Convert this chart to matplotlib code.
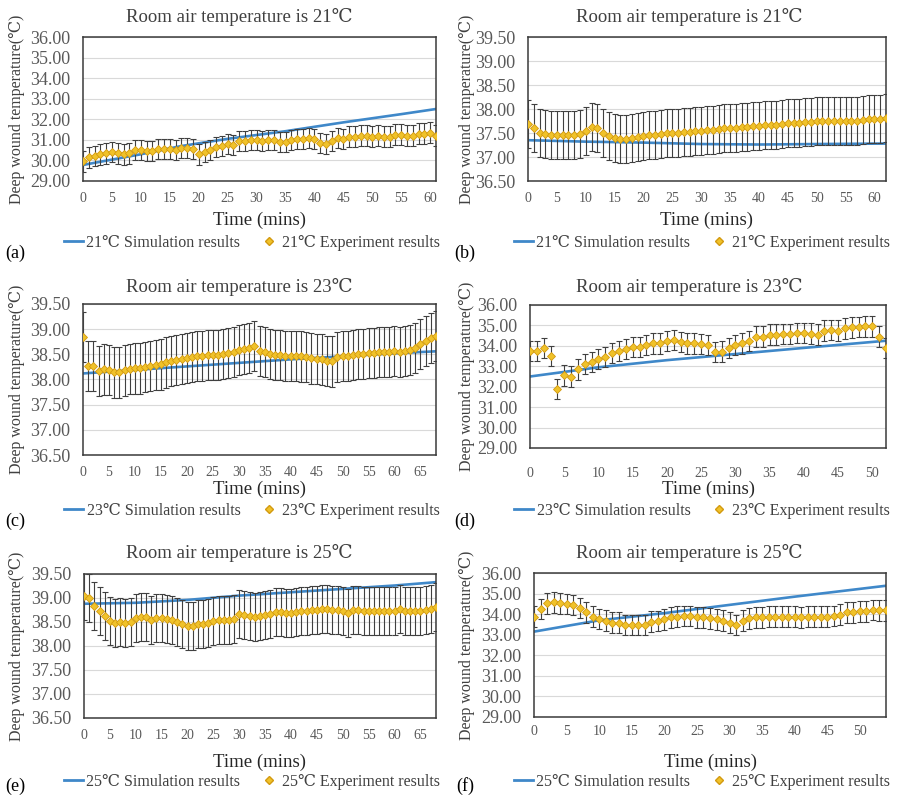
import numpy as np
import matplotlib
matplotlib.use("Agg")
import matplotlib.pyplot as plt
from matplotlib.lines import Line2D

plt.rcParams['font.family'] = ['Liberation Serif', 'DejaVu Serif']

# ---- data ----
# (a) 21 C, first sensor
a_exp = [29.95, 30.15, 30.22, 30.3, 30.35, 30.4, 30.35, 30.3, 30.35, 30.5,
         30.5, 30.45, 30.45, 30.55, 30.55, 30.55, 30.5, 30.6, 30.6, 30.55,
         30.3, 30.4, 30.5, 30.65, 30.7, 30.8, 30.75, 30.95, 30.95, 31.0,
         31.0, 30.95, 31.0, 31.0, 30.9, 30.9, 31.0, 31.05, 31.05, 31.1,
         31.05, 30.85, 30.8, 30.95, 31.1, 31.05, 31.15, 31.15, 31.2, 31.2,
         31.15, 31.2, 31.15, 31.15, 31.25, 31.25, 31.2, 31.2, 31.3, 31.3,
         31.35, 31.2]
a_sim_t = [0, 10, 17, 25, 35, 45, 55, 61]
a_sim = [29.78, 30.3, 30.7, 31.05, 31.42, 31.85, 32.25, 32.5]

# (b) 21 C, second sensor
b_exp = [37.68, 37.6, 37.5, 37.47, 37.45, 37.45, 37.45, 37.45, 37.45, 37.48,
         37.55, 37.62, 37.6, 37.5, 37.43, 37.4, 37.38, 37.38, 37.4, 37.41,
         37.43, 37.45, 37.46, 37.48, 37.5, 37.5, 37.5, 37.52, 37.53, 37.54,
         37.55, 37.56, 37.57, 37.58, 37.6, 37.6, 37.61, 37.62, 37.63, 37.64,
         37.65, 37.66, 37.67, 37.67, 37.68, 37.7, 37.7, 37.71, 37.72, 37.73,
         37.74, 37.75, 37.76, 37.75, 37.74, 37.74, 37.75, 37.76, 37.78, 37.79,
         37.8, 37.8, 37.82]
b_sim_t = [0, 10, 20, 30, 40, 50, 62]
b_sim = [37.35, 37.32, 37.3, 37.27, 37.26, 37.27, 37.28]

# (c) 23 C, first sensor
c_exp = [38.84, 38.27, 38.27, 38.17, 38.2, 38.19, 38.14, 38.14, 38.18, 38.21,
         38.22, 38.22, 38.25, 38.27, 38.29, 38.3, 38.34, 38.37, 38.39, 38.41,
         38.43, 38.45, 38.47, 38.47, 38.49, 38.49, 38.49, 38.5, 38.52, 38.55,
         38.59, 38.61, 38.62, 38.67, 38.57, 38.54, 38.51, 38.49, 38.49, 38.47,
         38.47, 38.47, 38.46, 38.45, 38.42, 38.41, 38.4, 38.37, 38.36, 38.45,
         38.47, 38.47, 38.49, 38.5, 38.51, 38.52, 38.53, 38.54, 38.54, 38.54,
         38.56, 38.55, 38.56, 38.59, 38.62, 38.7, 38.76, 38.82, 38.87]
c_sim_t = [0, 10, 20, 30, 40, 50, 60, 68]
c_sim = [38.12, 38.19, 38.26, 38.33, 38.4, 38.46, 38.52, 38.56]

# (d) 23 C, second sensor
d_exp = [33.74, 33.74, 33.9, 33.5, 31.9, 32.55, 32.5, 32.85, 33.1, 33.2,
         33.35, 33.45, 33.65, 33.75, 33.85, 33.95, 33.95, 34.05, 34.12, 34.12,
         34.25, 34.28, 34.2, 34.12, 34.12, 34.08, 34.05, 33.7, 33.72, 33.9,
         34.05, 34.12, 34.25, 34.45, 34.45, 34.55, 34.55, 34.58, 34.58, 34.62,
         34.62, 34.6, 34.55, 34.75, 34.78, 34.75, 34.85, 34.9, 34.92, 34.95,
         34.95, 34.45, 33.9]
d_sim_t = [0, 10, 20, 30, 40, 52]
d_sim = [32.5, 32.95, 33.3, 33.6, 33.9, 34.25]

# (e) 25 C, first sensor
e_exp = [39.05, 38.99, 38.83, 38.73, 38.63, 38.53, 38.47, 38.49, 38.47, 38.49,
         38.58, 38.61, 38.6, 38.54, 38.58, 38.58, 38.57, 38.54, 38.51, 38.45,
         38.42, 38.41, 38.45, 38.46, 38.47, 38.52, 38.54, 38.54, 38.54, 38.56,
         38.67, 38.65, 38.63, 38.61, 38.63, 38.65, 38.67, 38.7, 38.7, 38.68,
         38.68, 38.7, 38.72, 38.72, 38.75, 38.75, 38.77, 38.77, 38.75, 38.74,
         38.72, 38.68, 38.75, 38.74, 38.72, 38.72, 38.72, 38.72, 38.72, 38.72,
         38.72, 38.78, 38.72, 38.72, 38.72, 38.72, 38.74, 38.77, 38.81]
e_sim_t = [0, 10, 20, 30, 40, 50, 60, 68]
e_sim = [38.88, 38.9, 38.96, 39.05, 39.12, 39.19, 39.26, 39.33]

# (f) 25 C, second sensor
f_exp = [33.88, 34.24, 34.53, 34.57, 34.53, 34.5, 34.45, 34.29, 34.08, 33.88,
         33.77, 33.69, 33.59, 33.59, 33.48, 33.48, 33.48, 33.48, 33.64, 33.67,
         33.75, 33.85, 33.88, 33.92, 33.92, 33.85, 33.85, 33.8, 33.75, 33.69,
         33.59, 33.48, 33.69, 33.8, 33.85, 33.85, 33.88, 33.88, 33.88, 33.88,
         33.88, 33.85, 33.88, 33.88, 33.88, 33.88, 33.92, 33.97, 34.08, 34.08,
         34.13, 34.13, 34.21, 34.18, 34.18]
f_sim_t = [0, 10, 20, 30, 40, 54]
f_sim = [33.15, 33.7, 34.05, 34.45, 34.85, 35.38]

exp_err = 0.5

room_temps = ['21', '21', '23', '23', '25', '25']
panel_tags = ['(a)', '(b)', '(c)', '(d)', '(e)', '(f)']
low_range = [29, 30, 31, 32, 33, 34, 35, 36]
high_range = [36.5, 37.0, 37.5, 38.0, 38.5, 39.0, 39.5]

# ---- layout (pixels) ----
W, H = 898, 797
SIM_C = '#3f88c9'
MK_FACE = '#f0c22a'
MK_EDGE = '#d39a10'
ERR_C = '#404040'
TXT = '#404040'


def box(l, t, r, b):
    return [l / W, 1 - b / H, (r - l) / W, (b - t) / H]


# data, sim times, sim values, y ticks, axes box, x offset, x tick-label pad (pt)
panels = [
    (a_exp, a_sim_t, a_sim, low_range, box(83, 37, 436, 181), 0, 8),
    (b_exp, b_sim_t, b_sim, high_range, box(528, 37, 886, 181), 450, 8),
    (c_exp, c_sim_t, c_sim, high_range, box(83, 304, 436, 455), 0, 8),
    (d_exp, d_sim_t, d_sim, low_range, box(530, 305, 886, 448), 450, 14),
    (e_exp, e_sim_t, e_sim, high_range, box(84, 574, 436, 718), 0, 8),
    (f_exp, f_sim_t, f_sim, low_range, box(534, 573, 886, 717), 450, 6),
]
title_y = [17, 287, 553]
timelab_y = [220, 489, 762]
legend_y = [243, 511, 782]
tag_y = [253, 521, 786]

fig = plt.figure(figsize=(W / 100, H / 100), dpi=100)

for i, (exp, st, sv, yt, pos, dx, xpad) in enumerate(panels):
    row = i // 2
    ax = fig.add_axes(pos)
    t = np.arange(len(exp))
    ax.plot(st, sv, color=SIM_C, lw=1.9, zorder=2)
    ax.errorbar(t, exp, yerr=exp_err, fmt='none', ecolor=ERR_C,
                elinewidth=0.8, capsize=2.3, capthick=0.8, zorder=3)
    ax.plot(t, exp, ls='none', marker='D', ms=4.4, mfc=MK_FACE,
            mec=MK_EDGE, mew=0.6, zorder=4)
    ax.set_xlim(0, len(exp) - 1)
    ax.set_ylim(yt[0], yt[-1])
    ax.set_yticks(yt)
    ax.set_yticklabels(['%.2f' % v for v in yt])
    ax.set_xticks(np.arange(0, len(exp), 5))
    ax.yaxis.grid(True, color='#d9d9d9', lw=0.8)
    ax.set_axisbelow(True)
    ax.tick_params(axis='y', length=0, pad=9, labelsize=13, labelcolor='#595959')
    ax.tick_params(axis='x', length=0, pad=xpad, labelsize=10,
                   labelcolor='#595959')
    for s in ax.spines.values():
        s.set_color('#3a3a3a')
        s.set_linewidth(1.1)

    fig.text((dx + 239) / W, 1 - title_y[row] / H,
             'Room air temperature is %s\u2103' % room_temps[i],
             ha='center', va='center', fontsize=13.5, color=TXT)
    fig.text((dx + 17) / W, pos[1] + pos[3] / 2,
             'Deep wound temperature(\u2103)', rotation=90,
             ha='center', va='center', fontsize=11.5, color=TXT)
    fig.text(pos[0] + pos[2] / 2, 1 - timelab_y[row] / H, 'Time (mins)',
             ha='center', va='center', fontsize=13.5, color='#262626')
    handles = [Line2D([], [], color=SIM_C, lw=2),
               Line2D([], [], ls='none', marker='D', ms=4, mfc=MK_FACE,
                      mec=MK_EDGE)]
    labels = ['%s\u2103 Simulation results' % room_temps[i],
              '%s\u2103 Experiment results' % room_temps[i]]
    fig.legend(handles, labels, loc='center',
               bbox_to_anchor=((dx + 252) / W, 1 - legend_y[row] / H),
               ncol=2, frameon=False, fontsize=11.5, handlelength=1.2,
               handletextpad=0.2, columnspacing=1.2, labelcolor=TXT)
    fig.text((dx + 15) / W, 1 - tag_y[row] / H, panel_tags[i],
             ha='center', va='center', fontsize=13, color='black')

fig.savefig('out.png', dpi=100)
